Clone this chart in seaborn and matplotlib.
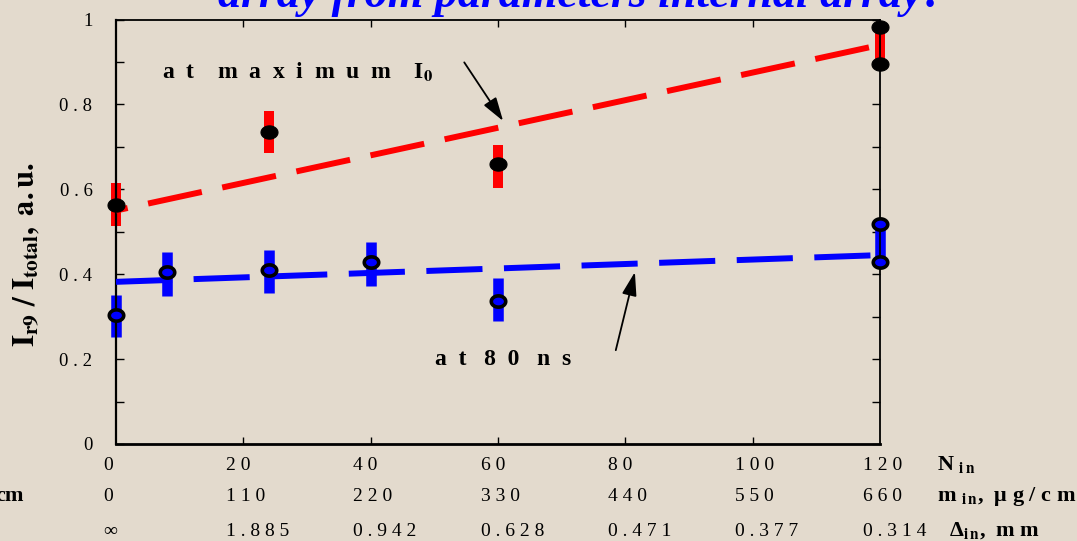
import numpy as np
import pandas as pd
import matplotlib
matplotlib.use("Agg")
import matplotlib.pyplot as plt
from matplotlib.path import Path
from matplotlib.transforms import blended_transform_factory
import seaborn as sns

# ---------------- data ----------------
red_x = [0, 24, 60, 120, 120]
red_y = [0.564, 0.735, 0.660, 0.982, 0.895]
red_bar_x = [0, 24, 60, 120]
red_bar_lo = [0.513, 0.685, 0.604, 0.895]
red_bar_hi = [0.616, 0.785, 0.705, 0.982]

blue_x = [0, 8, 24, 40, 60, 120, 120]
blue_y = [0.305, 0.406, 0.410, 0.429, 0.338, 0.519, 0.429]
blue_bar_x = [0, 8, 24, 40, 60, 120]
blue_bar_lo = [0.251, 0.349, 0.356, 0.372, 0.289, 0.429]
blue_bar_hi = [0.351, 0.452, 0.457, 0.475, 0.391, 0.519]

fit_x = [0, 120]
red_fit = [0.55, 0.94]
blue_fit = [0.382, 0.445]

n_ticks = [0, 20, 40, 60, 80, 100, 120]
n_labels = ["0", "20", "40", "60", "80", "100", "120"]
m_labels = ["0", "110", "220", "330", "440", "550", "660"]
d_labels = ["∞", "1.885", "0.942", "0.628", "0.471", "0.377", "0.314"]
y_labels = ["0", "0.2", "0.4", "0.6", "0.8", "1"]

title = "array from parameters internal array?"

# ---------------- style ----------------
sns.set_theme(style="ticks")
BG = "#e3dacd"
plt.rcParams["font.family"] = ["Liberation Serif", "DejaVu Serif"]
plt.rcParams["mathtext.fontset"] = "stix"
plt.rcParams["axes.unicode_minus"] = False

W, H = 1077, 541
fig = plt.figure(figsize=(W / 100, H / 100), dpi=100)
fig.patch.set_facecolor(BG)
ax = fig.add_axes([116 / W, (H - 444) / H, 764 / W, 424.5 / H])
ax.set_facecolor("none")

def spaced(s):
    return " ".join(s)

# ellipse marker
t = np.linspace(0, 2 * np.pi, 60)
ell = Path(np.column_stack([np.cos(t), 0.78 * np.sin(t)]), closed=True)

# error bars
ax.vlines(red_bar_x, red_bar_lo, red_bar_hi, colors="#ff0000", linewidth=7.2,
          clip_on=False, zorder=2)
ax.vlines(blue_bar_x, blue_bar_lo, blue_bar_hi, colors="#0000ff", linewidth=7.6,
          clip_on=False, zorder=2)

# trend lines
df_fit = pd.DataFrame({"x": fit_x, "red": red_fit, "blue": blue_fit})
sns.lineplot(data=df_fit, x="x", y="red", ax=ax, color="#ff0000", lw=4.3,
             linestyle=(7.2, (9.2, 3.5)), zorder=3)
sns.lineplot(data=df_fit, x="x", y="blue", ax=ax, color="#0000ff", lw=4.3,
             linestyle=(0, (9.4, 3.6)), zorder=3)
for ln in ax.lines:
    ln.set_clip_on(False)
    ln.set_solid_capstyle("butt")
    ln.set_dash_capstyle("butt")

# markers
sns.scatterplot(x=red_x, y=red_y, ax=ax, marker=ell, s=150, color="black",
                edgecolor="black", linewidth=0.8, clip_on=False, zorder=5)
sns.scatterplot(x=blue_x, y=blue_y, ax=ax, marker=ell, s=108, color="#0000ff",
                edgecolor="black", linewidth=2.6, clip_on=False, zorder=5)

# axes
ax.set_xlim(0, 120)
ax.set_ylim(0, 1)
ax.set_xlabel("")
ax.set_ylabel("")
ax.set_xticks([20, 40, 60, 80, 100])
ax.tick_params(axis="x", direction="in", top=True, bottom=True, length=5,
               width=1.0, labelbottom=False, labeltop=False, color="black")
ax.set_yticks(np.arange(0, 1.001, 0.1))
ax.set_yticklabels([spaced(y_labels[i // 2]) if i % 2 == 0 else ""
                    for i in range(11)])
ax.tick_params(axis="y", direction="in", left=True, right=True, length=6,
               width=1.0, pad=17, labelsize=13.5, color="black",
               labelcolor="black")
for side, lw in [("left", 1.6), ("bottom", 2.0), ("top", 1.3), ("right", 1.3)]:
    ax.spines[side].set_visible(True)
    ax.spines[side].set_linewidth(lw)
    ax.spines[side].set_color("black")

# bottom label table
tr = blended_transform_factory(ax.transData, fig.transFigure)
rows = [(n_labels, 470), (m_labels, 501), (d_labels, 536)]
for labels, ybase in rows:
    for xt, lab in zip(n_ticks, labels):
        off = 2.0 if xt == 0 else 2.7
        ax.text(xt - off, (H - ybase) / H, spaced(lab), transform=tr,
                ha="left", va="baseline", fontsize=14, color="black",
                clip_on=False)

fig.text(937 / W, (H - 470) / H, r"N $_{\mathbf{i\,n}}$", ha="left",
         va="baseline", fontsize=16, fontweight="bold", color="black")
fig.text(937 / W, (H - 501) / H, r"m $_{\mathbf{i\,n}}$,  μ g / c m",
         ha="left", va="baseline", fontsize=16, fontweight="bold",
         color="black")
fig.text(949 / W, (H - 536) / H, r"Δ$_{\mathbf{i\,n}}$,  m m", ha="left",
         va="baseline", fontsize=16, fontweight="bold", color="black")
fig.text(24 / W, (H - 501) / H, "cm", ha="right", va="baseline", fontsize=16,
         fontweight="bold", color="black")

# y label
fig.text(27 / W, (H - 255) / H,
         r"$\mathbf{I_{r9}\ /\ I_{total},\ a.u.}$", rotation=90,
         ha="center", va="center", fontsize=22, color="black")

# annotations
ax.text(7.2, 0.861, "a  t    m  a  x  i  m  u  m    I$_{\\mathbf{0}}$",
        ha="left", va="baseline", fontsize=17, fontweight="bold",
        color="black")
ax.text(50.1, 0.186, "a  t   8  0   n  s", ha="left", va="baseline",
        fontsize=17, fontweight="bold", color="black")
arrow = dict(arrowstyle="-|>,head_length=0.8,head_width=0.25", color="black",
             lw=1.3, mutation_scale=18, shrinkA=0, shrinkB=0)
ax.annotate("", xy=(60.8, 0.761), xytext=(54.7, 0.899), arrowprops=arrow)
ax.annotate("", xy=(81.5, 0.405), xytext=(78.5, 0.221), arrowprops=arrow)

# partially visible title (cut by the top edge, as in the reference)
fig.text(582 / W, (H - 7) / H, title, ha="center", va="baseline",
         fontsize=33, fontweight="bold", style="italic", color="#0000ff")

fig.savefig("out.png", dpi=100, facecolor=BG)
